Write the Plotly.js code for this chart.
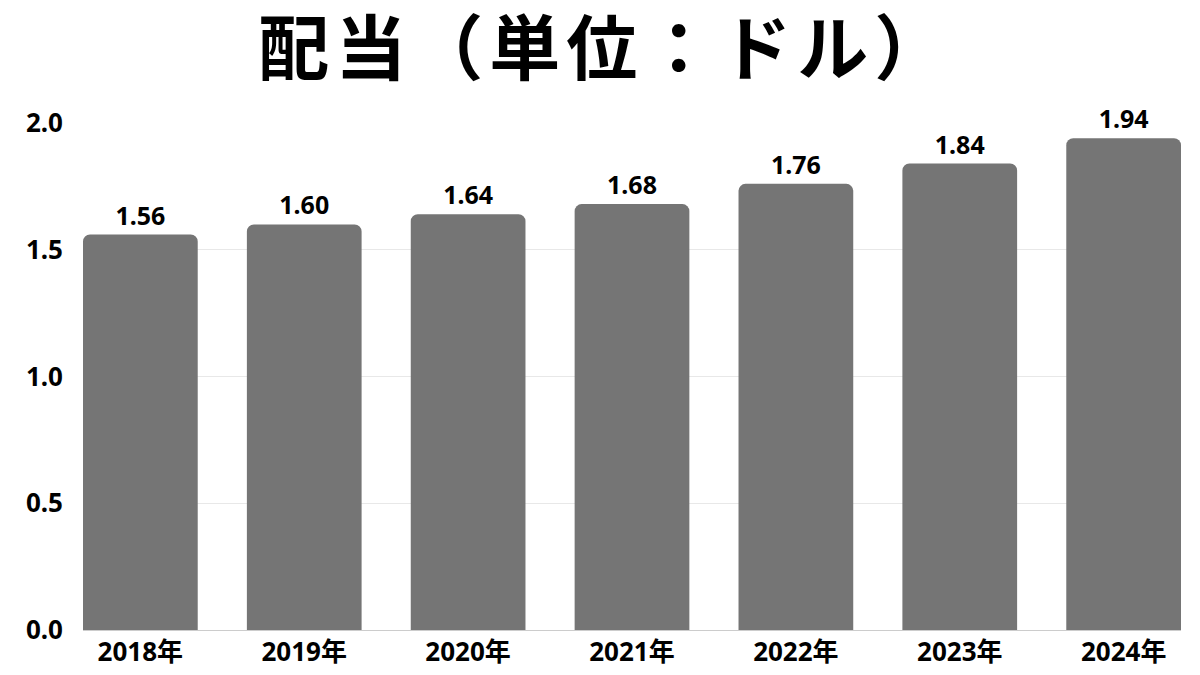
<!DOCTYPE html>
<html>
<head>
<meta charset="utf-8">
<script src="https://cdn.plot.ly/plotly-3.0.1.min.js"></script>
<style>html,body{margin:0;padding:0;background:#fff;}#chart{width:1200px;height:675px;}
#chart .gtitle{letter-spacing:6px;}</style>
</head>
<body>
<div id="chart"></div>
<script>
const categories = ["2018年","2019年","2020年","2021年","2022年","2023年","2024年"];
const dividends = [1.56, 1.60, 1.64, 1.68, 1.76, 1.84, 1.94];
const labels = ["1.56","1.60","1.64","1.68","1.76","1.84","1.94"];
const yTicks = [0, 0.5, 1.0, 1.5, 2.0];
const yTickText = ["0.0","0.5","1.0","1.5","2.0"];

const font = "Noto Sans, Noto Sans CJK JP, sans-serif";
const titleFont = "Noto Sans CJK JP, sans-serif";
const trace = {
  type: "bar",
  x: categories,
  y: dividends,
  text: labels,
  textposition: "outside",
  textfont: {family: font, size: 25, color: "#000", weight: 700},
  cliponaxis: false,
  marker: {color: "#757575"},
  hoverinfo: "x+y"
};
const layout = {
  width: 1200, height: 675,
  margin: {l: 83, r: 19, t: 123, b: 45},
  paper_bgcolor: "#fff", plot_bgcolor: "#fff",
  bargap: 0.3,
  barcornerradius: 7,
  showlegend: false,
  title: {text: "配当（単位：ドル）", x: 0.504, xanchor: "center", y: 0.927, yanchor: "middle",
          font: {family: titleFont, size: 71, color: "#000", weight: 700}},
  xaxis: {range: [-0.35, 6.35], showgrid: false, zeroline: false, showline: false,
          ticks: "", tickfont: {family: font, size: 26, color: "#000", weight: 700}, ticklabelstandoff: 4},
  yaxis: {range: [0, 2.0], tickvals: yTicks, ticktext: yTickText, showgrid: true, gridcolor: "#e8e8e8",
          gridwidth: 1, zeroline: true, zerolinecolor: "#cccccc", zerolinewidth: 1, showline: false, ticks: "",
          tickfont: {family: font, size: 26, color: "#000", weight: 700}, ticklabelstandoff: 19}
};
Plotly.newPlot("chart", [trace], layout, {displayModeBar: false, staticPlot: true});
</script>
</body>
</html>
